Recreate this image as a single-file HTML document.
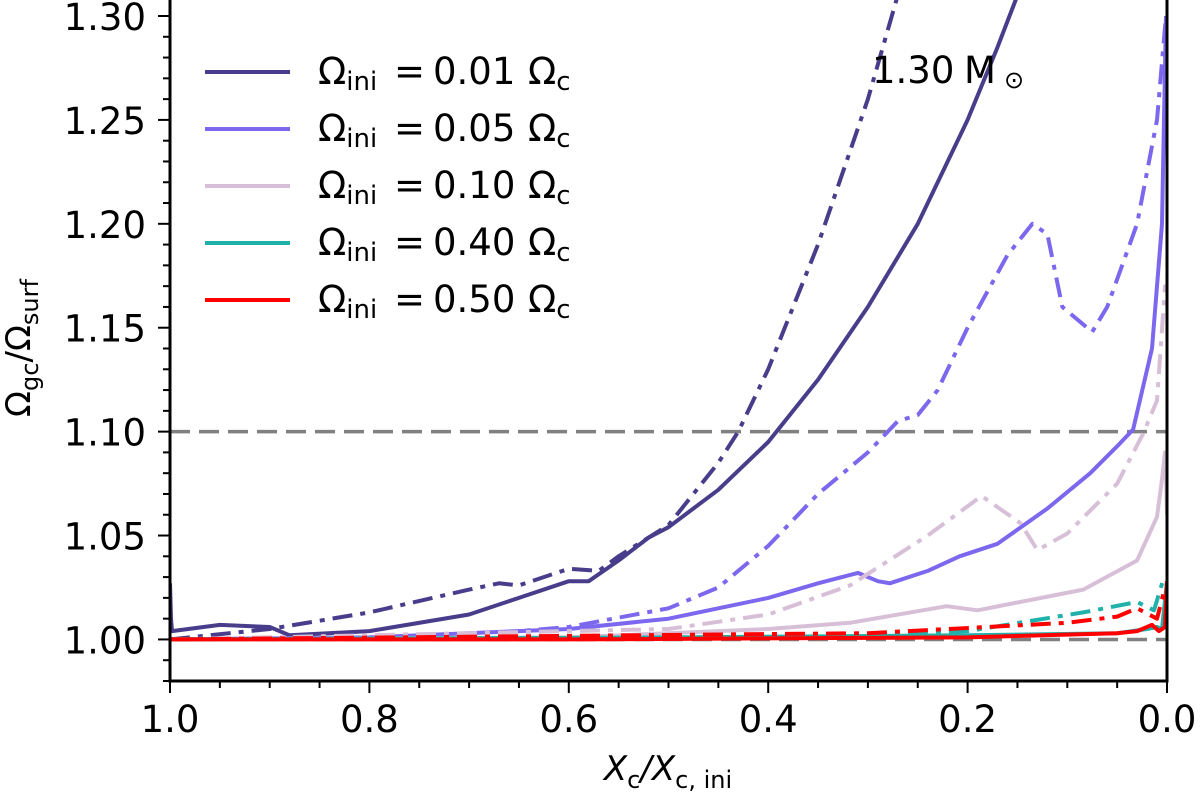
<!DOCTYPE html>
<html><head><meta charset="utf-8"><style>
body{margin:0;background:#fff;}
svg{font-family:"DejaVu Sans","Liberation Sans",sans-serif;}
</style></head><body>
<svg id="chart" width="1200" height="792" xmlns="http://www.w3.org/2000/svg">
<g id="plot"></g>
<g id="axes"></g>
<g id="legend"></g>
<text x="872" y="83" font-size="37">1.30<tspan x="964">M</tspan><tspan x="1004" y="88" font-size="24">⊙</tspan></text>
<text transform="translate(30,348) rotate(-90)" text-anchor="middle" font-size="34">Ω<tspan font-size="24" dy="8">gc</tspan><tspan dy="-8">/Ω</tspan><tspan font-size="24" dy="8">surf</tspan></text>
<text x="668" y="780" text-anchor="middle" font-size="34" font-style="italic">X<tspan font-size="24" dy="8" font-style="normal">c</tspan><tspan dy="-8">/X</tspan><tspan font-size="24" dy="8" font-style="normal">c, ini</tspan></text>
</svg>
<script>
const xTicks=[1.0,0.8,0.6,0.4,0.2,0.0];
const yTicks=[1.00,1.05,1.10,1.15,1.20,1.25,1.30];
const refLines=[1.00,1.10];
const legendLabels=["0.01","0.05","0.10","0.40","0.50"];
const colors=["#483d8b","#7b68ee","#d8bfd8","#20b2aa","#ff0000"];
const darkSolidX=[1.0,0.999,0.998,0.95,0.9,0.88,0.8,0.7,0.65,0.6,0.58,0.55,0.52,0.5,0.45,0.4,0.35,0.3,0.25,0.2,0.17,0.15];
const darkSolidY=[1.027,1.01,1.004,1.007,1.006,1.002,1.004,1.012,1.02,1.028,1.028,1.038,1.049,1.054,1.072,1.095,1.125,1.16,1.2,1.25,1.285,1.31];
const darkDashX=[1.0,0.9,0.8,0.7,0.67,0.65,0.6,0.57,0.55,0.5,0.45,0.43,0.4,0.35,0.3,0.27];
const darkDashY=[1.0,1.005,1.013,1.024,1.027,1.026,1.034,1.033,1.04,1.055,1.085,1.1,1.13,1.19,1.26,1.31];
const medSolidX=[1.0,0.8,0.6,0.5,0.4,0.35,0.31,0.29,0.278,0.24,0.208,0.17,0.12,0.077,0.05,0.034,0.015,0.005,0.001];
const medSolidY=[1.0,1.001,1.005,1.01,1.02,1.027,1.032,1.028,1.027,1.033,1.04,1.046,1.063,1.08,1.093,1.101,1.14,1.2,1.3];
const medDashX=[1.0,0.7,0.6,0.5,0.45,0.4,0.35,0.3,0.27,0.25,0.23,0.2,0.16,0.135,0.12,0.105,0.075,0.06,0.03,0.01,0.001];
const medDashY=[1.0,1.002,1.006,1.015,1.025,1.045,1.07,1.09,1.105,1.108,1.12,1.15,1.185,1.2,1.195,1.16,1.148,1.16,1.2,1.25,1.3];
const thSolidX=[1.0,0.6,0.4,0.318,0.221,0.19,0.084,0.03,0.01,0.005,0.002,0.001,0.0];
const thSolidY=[1.0,1.001,1.005,1.008,1.016,1.014,1.024,1.038,1.059,1.077,1.09,1.08,1.06];
const thDashX=[1.0,0.5,0.4,0.318,0.24,0.186,0.147,0.13,0.1,0.05,0.024,0.01,0.002,0.0];
const thDashY=[1.0,1.005,1.012,1.026,1.05,1.069,1.056,1.043,1.051,1.075,1.099,1.115,1.17,1.17];
const tealSolidX=[1.0,0.5,0.2,0.05,0.02,0.01,0.005,0.0];
const tealSolidY=[1.0,1.001,1.002,1.003,1.005,1.006,1.005,1.028];
const tealDashX=[1.0,0.3,0.2,0.084,0.03,0.013,0.003,0.0];
const tealDashY=[1.0,1.002,1.004,1.013,1.018,1.014,1.03,1.03];
const redSolidX=[1.0,0.6,0.2,0.05,0.03,0.015,0.008,0.002,0.0];
const redSolidY=[1.0,1.0,1.001,1.003,1.004,1.007,1.004,1.006,1.028];
const redDashX=[1.0,0.3,0.1,0.05,0.03,0.01,0.002,0.0];
const redDashY=[1.0,1.003,1.008,1.011,1.015,1.01,1.025,1.025];

const L=170,R=1167,T=16,B=681,ymin=0.98,ymax=1.30;
const sx=v=>R-(v)*(R-L);
const sy=v=>B-(v-ymin)/(ymax-ymin)*(B-T);
const NS="http://www.w3.org/2000/svg";
function mk(tag,attrs,parent){const e=document.createElementNS(NS,tag);for(const k in attrs)e.setAttribute(k,attrs[k]);parent.appendChild(e);return e;}
const plot=document.getElementById('plot'),axes=document.getElementById('axes'),legend=document.getElementById('legend');
mk('clipPath',{id:'clip'},plot).appendChild(document.createElementNS(NS,'rect'));
const cr=plot.querySelector('clipPath rect');cr.setAttribute('x',L);cr.setAttribute('y',0);cr.setAttribute('width',R-L);cr.setAttribute('height',B);
refLines.forEach(v=>{const l=mk('line',{x1:L,x2:R,y1:sy(v),y2:sy(v),stroke:'#808080','stroke-width':3.5,'stroke-dasharray':'20 9'},plot);

});
const DD='20 8 5 8';
const series=[[darkSolidX,darkSolidY,0,null],[darkDashX,darkDashY,0,DD],[medSolidX,medSolidY,1,null],[medDashX,medDashY,1,DD],[thSolidX,thSolidY,2,null],[thDashX,thDashY,2,DD],[tealDashX,tealDashY,3,DD],[tealSolidX,tealSolidY,3,null],[redDashX,redDashY,4,DD],[redSolidX,redSolidY,4,null]];
const g=mk('g',{'clip-path':'url(#clip)'},plot);
series.forEach(([xs,ys,ci,dash],i)=>{
 const d=xs.map((x,j)=>(j?'L':'M')+sx(x).toFixed(1)+','+sy(ys[j]).toFixed(1)).join(' ');
 const a={d:d,fill:'none',stroke:colors[ci],'stroke-width':4,'stroke-linejoin':'round'};
 if(dash)a['stroke-dasharray']=dash;
 const p=mk('path',a,g);
 
 
});
const fr=mk('rect',{x:L,y:T-20,width:R-L,height:B-T+20,fill:'none',stroke:'#000','stroke-width':3},axes);


for(let k=0;k<=20;k++){const v=k*0.05,major=k%4==0;mk('line',{x1:sx(v),x2:sx(v),y1:B,y2:B+(major?12:7),stroke:'#000','stroke-width':2},axes);}
xTicks.forEach(v=>{const t=mk('text',{x:sx(v),y:B+51,'text-anchor':'middle','font-size':37},axes);t.textContent=v.toFixed(1);

});
for(let k=0;k<=32;k++){const v=ymin+k*0.01;if(v>ymax+1e-9)break;const major=Math.abs((v*100)%5)<1e-6||Math.abs((v*100)%5-5)<1e-6;mk('line',{x1:L,x2:L-(major?12:7),y1:sy(v),y2:sy(v),stroke:'#000','stroke-width':2},axes);}
yTicks.forEach(v=>{const t=mk('text',{x:L-24,y:sy(v)+14,'text-anchor':'end','font-size':37},axes);t.textContent=v.toFixed(2);

});
legendLabels.forEach((lab,i)=>{const y=72+i*57;
 const l=mk('line',{x1:205,x2:290,y1:y,y2:y,stroke:colors[i],'stroke-width':4},legend);
 
 
 const t=mk('text',{x:318,y:y+12,'font-size':37},legend);
 t.innerHTML='Ω<tspan font-size="26" dy="6">ini</tspan><tspan x="394" dy="-6">=</tspan><tspan x="433">'+lab+'</tspan><tspan x="528">Ω</tspan><tspan font-size="26" dy="6">c</tspan>';
 
 });
</script>
</body></html>
